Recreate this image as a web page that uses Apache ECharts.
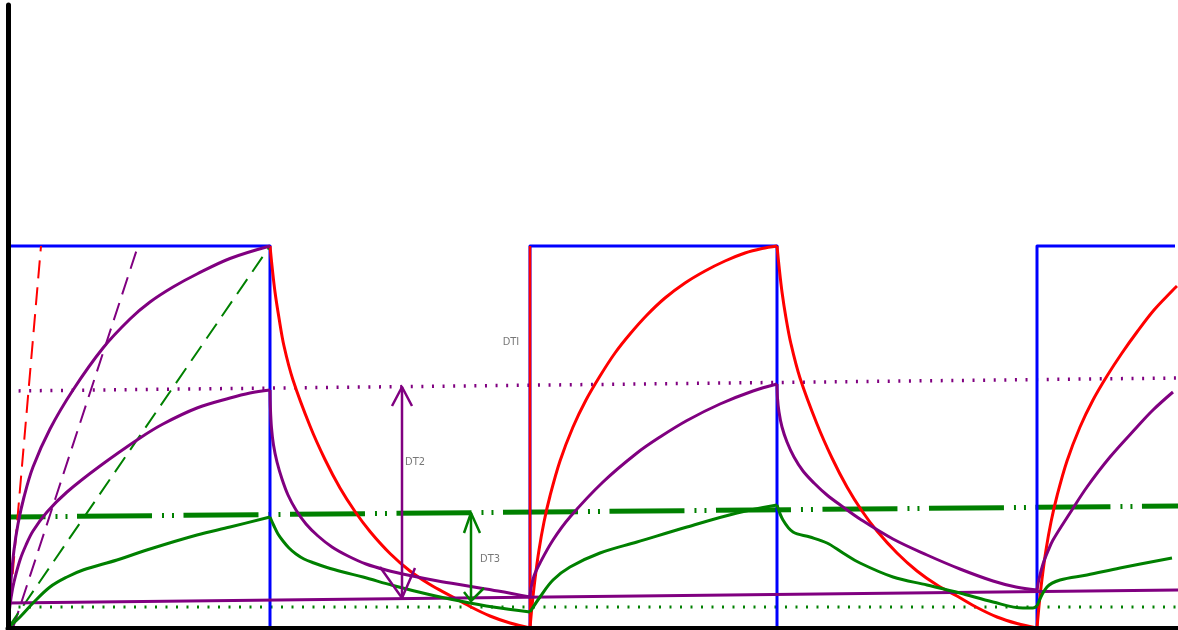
<!DOCTYPE html>
<html>
<head>
<meta charset="utf-8">
<script src="https://cdn.jsdelivr.net/npm/echarts@6/dist/echarts.min.js"></script>
<style>html,body{margin:0;padding:0;background:#fff}#c{width:1178px;height:630px}</style>
</head>
<body>
<div id="c"></div>
<script>
// ---- data (arbitrary time / amplitude units) ----
const blueSquare = [[0,382],[262,382],[262,0],[522,0],[522,382],[769,382],[769,0],[1029,0],[1029,382],[1167,382]];

const redDash   = [[0,0],[33,382]];
const redDecay1 = [[262,382],[264,362],[267,336],[271,310],[276,282],[285,248],[302,202],[317,168.5],[332,140],[347,116.5],[362,96.5],[382,74.5],[402,57],[422,43.5],[442,32.5],[462,21.5],[482,12],[502,5],[522,0]];
const redEdge   = [[522,0],[522,382]];
const redRise2  = [[522,0],[524,22],[527,49],[531,78],[536,106],[542,132],[552,167],[565,201],[578,228],[592,252],[607,275],[622,294],[639,313],[657,330],[677,345],[697,357],[717,367],[737,375],[754,379.5],[769,382]];
const redDecay2 = [[769,382],[771,362],[774,336],[778,310],[783,284],[792,250],[809,204],[824,170],[839,141],[854,117],[869,97],[889,75],[909,57],[929,43],[949,32],[969,20.5],[989,11],[1009,4.5],[1029,0]];
const redRise3  = [[1029,0],[1031,22],[1034,49],[1038,78],[1043,106],[1049,132],[1059,167],[1072,201],[1085,228],[1099,252],[1114,275],[1129,296],[1146,318],[1164,337],[1169,342]];

const purpleDash   = [[5,0],[130,382]];
const purpleFast   = [[0,0],[1,24],[3,48],[6,78],[10,104],[16,131],[25,161],[42,199],[65,238],[95,280],[122,309],[142,326],[165,341],[189,354],[222,369.5],[262,382]];
const purpleRise1  = [[0,0],[1,14],[3,30],[6,46],[12,68],[18,83],[25,97],[39,116],[59,136],[92,162],[132,190],[155,204],[189,220],[222,230],[242,235],[262,238]];
const purpleDecay1 = [[262,238],[262.4,220],[263.5,200],[265.5,183],[269,166],[274,149],[280,133],[288,118],[298,104],[310,92],[324,81],[340,72],[358,64],[378,58],[402,52.5],[430,47],[460,42],[490,37],[522,31]];
const purpleRise2  = [[522,31],[523,40],[526,52],[532,65],[545,88],[562,111],[595,146],[629,175],[652,191],[679,207.5],[712,224],[745,237],[769,244]];
const purpleDecay2 = [[769,244],[769.5,230],[771,216],[774,201],[779,186],[786,171],[795,157],[806,145],[819,133],[835,121],[852,109],[885,89],[919,73],[952,59],[985,47],[1008,41],[1029,38]];
const purpleRise3  = [[1029,38],[1031,49],[1035,64],[1040,77],[1045,88],[1062,115],[1079,141],[1102,171],[1129,201],[1145,218],[1165,236]];
const purpleDotted = [[0,237],[1170,250]];
const purpleFloor  = [[0,25],[1170,38]];

const greenDash    = [[0,0],[262,382]];
const greenRise1   = [[0,0],[12,11],[25,25],[42,41],[59,51],[75,58],[109,68],[142,79],[189,93],[222,101],[262,111]];
const greenDecay1  = [[262,111],[266,102],[270,94],[275,87],[281,80],[288,74],[296,69],[306,65],[319,60.5],[335,56],[355,51],[385,42.5],[419,34],[452,27],[485,21],[522,16]];
const greenRise2   = [[522,16],[532,31],[545,48],[562,61],[592,75],[629,86],[679,101],[729,115],[769,123]];
const greenDecay2  = [[769,123],[775,108],[785,96],[802,91],[819,85],[835,75],[852,65],[885,51],[919,43],[952,35],[985,26],[1015,20],[1025,20],[1029,22]];
const greenRise3   = [[1029,22],[1039,41],[1052,48],[1079,53],[1112,60],[1164,70]];
const greenDashDot = [[0,111],[1170,122]];
const greenDotted  = [[0,21],[1170,21]];

const dt2Shaft      = [[394,30],[394,241]];
const dt2HeadTop    = [[384,222],[394,241],[404,222]];
const dt2HeadBottom = [[372,61],[394,30],[407,60]];
const dt3Shaft      = [[463,27],[463,115]];
const dt3HeadTop    = [[456,95],[463,115],[472,95]];
const dt3HeadBottom = [[456,36],[463,27],[476,40]];

const labelNames = ['DTI','DT2','DT3'];
const labelPos   = [[503,286],[407,166],[482,69]];

// ---- styles ----
const BLUE='#0000ff', RED='#ff0000', PURPLE='#800080', GREEN='#008000';
function seg(data, color, width, extra) {
  extra = extra || {};
  return {
    type:'line', data:data, symbol:'none', showSymbol:false, silent:true,
    smooth: extra.smooth || false, z: extra.z != null ? extra.z : 2,
    lineStyle: Object.assign({color:color, width:width, type:'solid', cap:'butt', join:'round'}, extra.ls || {})
  };
}
const SM = {smooth:0.35};
const series = [
  seg(greenDotted, GREEN, 3, {ls:{type:[2,8.5]}}),
  seg(purpleDotted, PURPLE, 3.5, {ls:{type:[2,8.6]}}),
  seg(greenDashDot, GREEN, 5, {ls:{type:[75,10,2,8,2,9.5], dashOffset:37.5}}),
  seg(blueSquare, BLUE, 3),
  seg(redDash, RED, 2, {ls:{type:[18,9]}}),
  seg(purpleDash, PURPLE, 2, {ls:{type:[18,9]}}),
  seg(greenDash, GREEN, 2, {ls:{type:[18,9]}}),
  seg(redEdge, RED, 2.5),
  seg(redDecay1, RED, 3, SM),
  seg(redRise2, RED, 3, SM),
  seg(redDecay2, RED, 3, SM),
  seg(redRise3, RED, 3, SM),
  seg(purpleFloor, PURPLE, 3),
  seg(greenRise1, GREEN, 3, SM),
  seg(greenDecay1, GREEN, 3, SM),
  seg(greenRise2, GREEN, 3, SM),
  seg(greenDecay2, GREEN, 3, SM),
  seg(greenRise3, GREEN, 3, SM),
  seg(purpleFast, PURPLE, 3, SM),
  seg(purpleRise1, PURPLE, 3, SM),
  seg(purpleDecay1, PURPLE, 3, SM),
  seg(purpleRise2, PURPLE, 3, SM),
  seg(purpleDecay2, PURPLE, 3, SM),
  seg(purpleRise3, PURPLE, 3, SM),
  seg(dt2Shaft, PURPLE, 2.5),
  seg(dt2HeadTop, PURPLE, 2.5),
  seg(dt2HeadBottom, PURPLE, 2.5),
  seg(dt3Shaft, GREEN, 2.5),
  seg(dt3HeadTop, GREEN, 2.5),
  seg(dt3HeadBottom, GREEN, 2.5),
  {
    type:'scatter', symbolSize:0, silent:true, z:5,
    data: labelNames.map((n,i)=>({name:n, value:labelPos[i]})),
    label:{show:true, position:'inside', formatter:'{b}', color:'#555',
           fontFamily:"'Liberation Sans Narrow','DejaVu Sans Condensed',sans-serif", fontSize:11}
  }
];

const chart = echarts.init(document.getElementById('c'), null, {renderer:'canvas'});
chart.setOption({
  animation:false,
  backgroundColor:'#fff',
  grid:{left:8, right:0, top:5, bottom:2, containLabel:false},
  xAxis:{type:'value', min:0, max:1170, z:4, axisLine:{show:true, onZero:false, lineStyle:{color:'#000', width:5}},
         axisTick:{show:false}, axisLabel:{show:false}, splitLine:{show:false}},
  yAxis:{type:'value', min:0, max:623, z:4, axisLine:{show:true, onZero:false, lineStyle:{color:'#000', width:5}},
         axisTick:{show:false}, axisLabel:{show:false}, splitLine:{show:false}},
  series: series
});
</script>
</body>
</html>
